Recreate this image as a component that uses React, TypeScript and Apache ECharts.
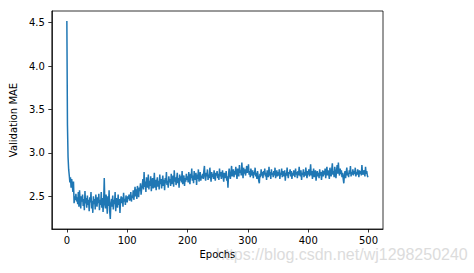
import React, { useEffect, useRef } from "react";
import * as echarts from "echarts";

// Validation MAE per epoch (epochs 0..499)
const maeEpochs000 = [
  4.52, 3.32, 2.95, 2.81, 2.74, 2.66, 2.72, 2.60, 2.70, 2.63, 2.55, 2.67, 2.42, 2.50, 2.46, 2.53, 2.44, 2.49, 2.41, 2.55, 2.38, 2.57, 2.45, 2.36, 2.50,
  2.44, 2.52, 2.39, 2.47, 2.34, 2.56, 2.42, 2.48, 2.37, 2.51, 2.40, 2.46, 2.33, 2.49, 2.43, 2.55, 2.36, 2.45, 2.31, 2.50, 2.41, 2.47, 2.35, 2.52, 2.44,
  2.38, 2.49, 2.42, 2.53, 2.34, 2.46, 2.40, 2.55, 2.37, 2.48, 2.32, 2.45, 2.71, 2.41, 2.36, 2.52, 2.43, 2.30, 2.50, 2.39, 2.57, 2.33, 2.24, 2.42, 2.47,
  2.38, 2.51, 2.35, 2.46, 2.41, 2.55, 2.33, 2.48, 2.44, 2.37, 2.52, 2.40, 2.47, 2.31, 2.45, 2.50, 2.42, 2.49, 2.38, 2.54, 2.44, 2.47, 2.40, 2.51, 2.46,
];
const maeEpochs100 = [
  2.43, 2.50, 2.47, 2.52, 2.45, 2.49, 2.55, 2.44, 2.51, 2.48, 2.57, 2.46, 2.53, 2.61, 2.50, 2.58, 2.47, 2.62, 2.54, 2.49, 2.60, 2.56, 2.65, 2.52, 2.59,
  2.63, 2.70, 2.58, 2.78, 2.61, 2.67, 2.55, 2.72, 2.64, 2.60, 2.75, 2.58, 2.68, 2.62, 2.73, 2.56, 2.66, 2.71, 2.59, 2.65, 2.77, 2.60, 2.69, 2.57, 2.67,
  2.72, 2.61, 2.68, 2.58, 2.75, 2.64, 2.70, 2.59, 2.66, 2.74, 2.62, 2.69, 2.57, 2.71, 2.65, 2.78, 2.63, 2.68, 2.60, 2.73, 2.66, 2.70, 2.62, 2.76, 2.64,
  2.69, 2.74, 2.61, 2.80, 2.67, 2.72, 2.63, 2.70, 2.77, 2.65, 2.71, 2.60, 2.75, 2.68, 2.73, 2.66, 2.79, 2.64, 2.70, 2.74, 2.62, 2.71, 2.67, 2.76, 2.69,
];
const maeEpochs200 = [
  2.73, 2.66, 2.78, 2.70, 2.64, 2.76, 2.71, 2.82, 2.68, 2.74, 2.65, 2.79, 2.72, 2.69, 2.77, 2.63, 2.75, 2.70, 2.81, 2.67, 2.73, 2.78, 2.68, 2.74, 2.71,
  2.76, 2.70, 2.79, 2.85, 2.72, 2.68, 2.77, 2.73, 2.81, 2.69, 2.75, 2.71, 2.83, 2.74, 2.67, 2.78, 2.72, 2.76, 2.70, 2.80, 2.73, 2.68, 2.77, 2.74, 2.79,
  2.71, 2.76, 2.69, 2.82, 2.73, 2.78, 2.70, 2.75, 2.80, 2.72, 2.67, 2.77, 2.74, 2.71, 2.79, 2.68, 2.73, 2.60, 2.76, 2.82, 2.74, 2.70, 2.78, 2.85, 2.73,
  2.77, 2.81, 2.72, 2.79, 2.75, 2.84, 2.76, 2.70, 2.82, 2.78, 2.73, 2.86, 2.77, 2.80, 2.74, 2.89, 2.79, 2.71, 2.83, 2.76, 2.81, 2.74, 2.78, 2.85, 2.77,
];
const maeEpochs300 = [
  2.80, 2.87, 2.75, 2.79, 2.72, 2.82, 2.77, 2.74, 2.80, 2.71, 2.78, 2.75, 2.83, 2.73, 2.77, 2.70, 2.79, 2.74, 2.68, 2.65, 2.76, 2.72, 2.81, 2.74, 2.78,
  2.71, 2.79, 2.75, 2.82, 2.73, 2.77, 2.69, 2.80, 2.76, 2.72, 2.84, 2.74, 2.78, 2.70, 2.81, 2.75, 2.77, 2.72, 2.79, 2.74, 2.83, 2.71, 2.76, 2.80, 2.73,
  2.78, 2.74, 2.81, 2.70, 2.77, 2.75, 2.82, 2.72, 2.79, 2.76, 2.73, 2.80, 2.68, 2.77, 2.74, 2.83, 2.75, 2.71, 2.78, 2.76, 2.81, 2.73, 2.79, 2.70, 2.77,
  2.74, 2.80, 2.76, 2.72, 2.82, 2.75, 2.78, 2.71, 2.79, 2.74, 2.84, 2.76, 2.73, 2.80, 2.69, 2.77, 2.75, 2.81, 2.72, 2.78, 2.74, 2.83, 2.76, 2.71, 2.79,
];
const maeEpochs400 = [
  2.75, 2.81, 2.73, 2.78, 2.87, 2.74, 2.79, 2.70, 2.77, 2.82, 2.72, 2.76, 2.80, 2.68, 2.75, 2.79, 2.73, 2.77, 2.71, 2.81, 2.74, 2.78, 2.69, 2.76, 2.80,
  2.73, 2.79, 2.75, 2.82, 2.71, 2.78, 2.84, 2.74, 2.80, 2.76, 2.70, 2.83, 2.77, 2.73, 2.81, 2.88, 2.75, 2.79, 2.72, 2.84, 2.77, 2.71, 2.80, 2.86, 2.76,
  2.89, 2.78, 2.74, 2.82, 2.76, 2.80, 2.72, 2.77, 2.70, 2.65, 2.75, 2.79, 2.71, 2.78, 2.83, 2.74, 2.77, 2.72, 2.80, 2.76, 2.85, 2.73, 2.78, 2.75, 2.81,
  2.74, 2.79, 2.76, 2.83, 2.73, 2.78, 2.75, 2.81, 2.77, 2.72, 2.80, 2.76, 2.79, 2.74, 2.86, 2.77, 2.75, 2.80, 2.78, 2.73, 2.84, 2.76, 2.79, 2.74, 2.72,
];

const xTicks = [0, 100, 200, 300, 400, 500];
const yTicks = [2.5, 3.0, 3.5, 4.0, 4.5];
const xName = "Epochs";
const yName = "Validation MAE";
const watermark = "https://blog.csdn.net/wj1298250240";

export default function App() {
  const ref = useRef<HTMLDivElement>(null);
  useEffect(() => {
    document.body.style.margin = "0";
    const chart = echarts.init(ref.current!, null, { renderer: "svg" });
    const mae = [
      ...maeEpochs000,
      ...maeEpochs100,
      ...maeEpochs200,
      ...maeEpochs300,
      ...maeEpochs400,
    ];
    const data = mae.map((v, i) => [i, v]);
    const font = "DejaVu Sans";
    chart.setOption({
      animation: false,
      backgroundColor: "#ffffff",
      textStyle: { fontFamily: font },
      graphic: [
        {
          type: "text",
          left: 216,
          top: 246,
          z: -10,
          style: {
            text: watermark,
            font: '16px "Liberation Sans", Arial, sans-serif',
            fill: "#dcdcdc",
          },
        },
      ],
      grid: {
        left: 48,
        top: 11,
        right: 91,
        bottom: 44,
        show: true,
        borderColor: "#000",
        borderWidth: 0.8,
        backgroundColor: "transparent",
      },
      xAxis: {
        type: "value",
        min: -24.95,
        max: 523.95,
        name: xName,
        nameLocation: "middle",
        nameGap: 19,
        nameTextStyle: { color: "#000", fontSize: 10, fontFamily: font },
        axisLine: { show: true, onZero: false, lineStyle: { color: "#000", width: 0.8 } },
        axisTick: {
          show: true,
          customValues: xTicks,
          length: 3.5,
          lineStyle: { color: "#000", width: 0.8 },
        },
        axisLabel: {
          customValues: xTicks,
          margin: 6,
          color: "#000",
          fontSize: 10,
          fontFamily: font,
        },
        splitLine: { show: false },
      },
      yAxis: {
        type: "value",
        min: 2.124,
        max: 4.634,
        name: yName,
        nameLocation: "middle",
        nameGap: 30,
        nameRotate: 90,
        nameTextStyle: { color: "#000", fontSize: 10, fontFamily: font },
        axisLine: { show: true, onZero: false, lineStyle: { color: "#000", width: 0.8 } },
        axisTick: {
          show: true,
          customValues: yTicks,
          length: 3.5,
          lineStyle: { color: "#000", width: 0.8 },
        },
        axisLabel: {
          customValues: yTicks,
          margin: 7,
          color: "#000",
          fontSize: 10,
          fontFamily: font,
          formatter: (v: number) => v.toFixed(1),
        },
        splitLine: { show: false },
      },
      series: [
        {
          type: "line",
          data,
          showSymbol: false,
          symbol: "none",
          lineStyle: { color: "#1f77b4", width: 1.5 },
          itemStyle: { color: "#1f77b4" },
        },
      ],
    });
    return () => chart.dispose();
  }, []);
  return <div ref={ref} style={{ width: 474, height: 273 }} />;
}
